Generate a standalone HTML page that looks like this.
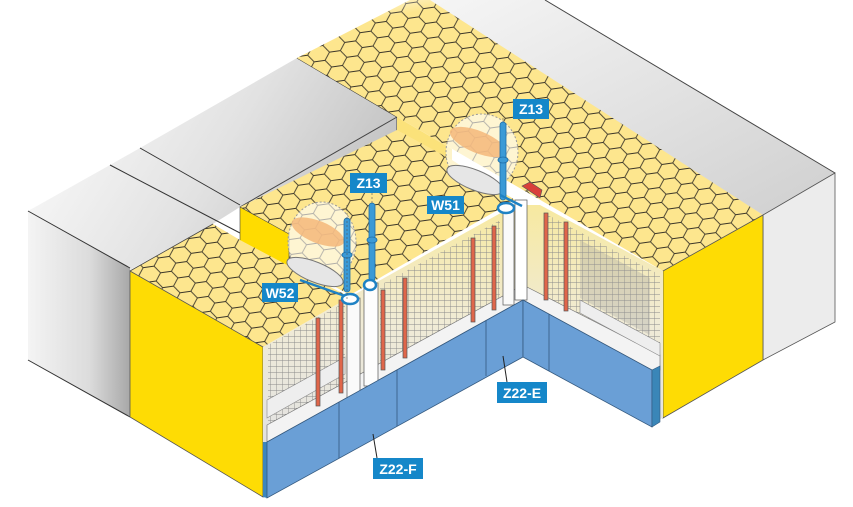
<!DOCTYPE html>
<html><head><meta charset="utf-8"><style>
html,body{margin:0;padding:0;background:#fff;}
svg{display:block;}
.lbl{font-family:"Liberation Sans",sans-serif;font-weight:bold;font-size:14px;fill:#fff;}
</style></head><body>
<svg width="853" height="507" viewBox="0 0 853 507" xmlns="http://www.w3.org/2000/svg">
<defs>
<pattern id="hex" width="33" height="15" patternUnits="userSpaceOnUse" patternTransform="rotate(-8)">
<rect width="33" height="15" fill="#fde68e"/>
<path d="M0,7.5 L5.5,0 L16.5,0 L22,7.5 L16.5,15 L5.5,15 Z M22,7.5 L33,7.5" fill="none" stroke="#3a3528" stroke-width="0.9"/>
</pattern>
<pattern id="mesh" width="6" height="6" patternUnits="userSpaceOnUse">
<path d="M0,0 L6,0 M0,0 L0,6" stroke="#8a8a8a" stroke-width="0.9"/>
</pattern>
<linearGradient id="gl" x1="0" y1="0" x2="1" y2="0.6">
<stop offset="0" stop-color="#ffffff"/><stop offset="0.5" stop-color="#e2e2e2"/><stop offset="1" stop-color="#b5b5b5"/>
</linearGradient>
<linearGradient id="gface" x1="0" y1="0" x2="1" y2="0">
<stop offset="0" stop-color="#f4f4f4"/><stop offset="0.6" stop-color="#dcdcdc"/><stop offset="1" stop-color="#a8a8a8"/>
</linearGradient>
<linearGradient id="gr" x1="0" y1="0" x2="1" y2="1">
<stop offset="0" stop-color="#f6f6f6"/><stop offset="1" stop-color="#cfcfcf"/>
</linearGradient>
<linearGradient id="fadeTop" x1="0" y1="0" x2="0.5" y2="1">
<stop offset="0" stop-color="#fff" stop-opacity="1"/><stop offset="0.35" stop-color="#fff" stop-opacity="0"/>
</linearGradient>
<linearGradient id="wall" x1="0" y1="0" x2="0" y2="1">
<stop offset="0" stop-color="#f7e9a0"/><stop offset="0.5" stop-color="#f0ebd6"/><stop offset="1" stop-color="#e2e2e2"/>
</linearGradient>
</defs>

<polygon points="420,0 545,0 835,173 763,215" fill="url(#gr)"/>
<polygon points="763,215 835,173 835,322 763,360" fill="#ececec" stroke="#555" stroke-width="0.8"/>
<line x1="545" y1="0" x2="835" y2="173" stroke="#444" stroke-width="1"/>

<polygon points="28,211 110,165 140,148 297,58 397,117 397,132 240,207 213,224 130,270 130,417 28,360" fill="url(#gl)"/>
<polygon points="28,211 130,268 130,417 28,360" fill="url(#gface)"/>
<line x1="28" y1="211" x2="130" y2="268" stroke="#333"/>
<line x1="28" y1="360" x2="130" y2="417" stroke="#333"/>
<line x1="110" y1="165" x2="240" y2="233" stroke="#333"/>
<line x1="140" y1="148" x2="240" y2="205" stroke="#333"/>
<line x1="297" y1="58" x2="397" y2="117" stroke="#333"/>
<line x1="240" y1="207" x2="397" y2="117" stroke="#444"/>
<line x1="397" y1="117" x2="397" y2="135" stroke="#444"/>

<polygon points="297,58 410,0 430,0 763,215 663,271 397,117" fill="url(#hex)"/>
<polygon points="297,58 410,0 430,0 500,40 330,80" fill="url(#fadeTop)"/>
<polygon points="397,117 452,149 452,192 397,160" fill="#fbe27a"/>

<polygon points="240,207 397,130 452,160 515,200 350,295 290,262" fill="url(#hex)"/>
<polygon points="240,207 289,234 289,268 240,242" fill="#ffdc00" stroke="#444" stroke-width="0.6"/>

<polygon points="130,271 213,224 240,240 289,266 350,297 263,347" fill="url(#hex)"/>
<polyline points="130,271 213,224" fill="none" stroke="#444" stroke-width="0.8"/>

<polygon points="663,271 763,215 763,360 663,418" fill="#fedc04" stroke="#555" stroke-width="0.8"/>
<polygon points="130,271 263,347 263,497 130,417" fill="#fedc04" stroke="#555" stroke-width="0.8"/>

<polygon points="263,347 350,297 515,205 540,205 663,271 663,418 652,422 652,370 523,300 267,442 263,442" fill="url(#wall)"/>
<polygon points="268,345 345,302 345,395 268,440" fill="url(#mesh)"/>
<polygon points="380,285 500,220 500,305 380,372" fill="url(#mesh)"/>
<polygon points="548,215 660,275 660,360 548,300" fill="url(#mesh)"/>
<polygon points="580,240 650,278 650,335 580,298" fill="#9a9a9a" opacity="0.3"/>

<polygon points="267,425 523,285 660,355 660,370 652,370 523,300 267,442" fill="#f3f3f3" stroke="#777" stroke-width="0.7"/>
<polygon points="267,400 345,357 345,374 267,418" fill="#eeeeee" stroke="#888" stroke-width="0.6"/>
<polygon points="580,300 660,343 660,356 580,313" fill="#eee" stroke="#888" stroke-width="0.6"/>

<g stroke="#555" stroke-width="0.7">
<rect x="347" y="298" width="13" height="100" fill="#fafafa"/>
<rect x="364" y="283" width="14" height="103" fill="#fdfdfd"/>
<rect x="503" y="205" width="11" height="100" fill="#fafafa"/>
<rect x="515" y="200" width="12" height="100" fill="#fff"/>
<rect x="316" y="318" width="4" height="88" fill="#e0664a"/>
<rect x="339" y="300" width="4" height="93" fill="#e0664a"/>
<rect x="381" y="290" width="4" height="80" fill="#e0664a"/>
<rect x="403" y="278" width="4" height="80" fill="#e0664a"/>
<rect x="471" y="238" width="4" height="84" fill="#e0664a"/>
<rect x="492" y="226" width="4" height="84" fill="#e0664a"/>
<rect x="544" y="213" width="4" height="87" fill="#e0664a"/>
<rect x="564" y="222" width="4" height="89" fill="#e0664a"/>
</g>

<polygon points="263,442 267,442 267,498 263,497" fill="#3c86bd"/>
<polygon points="267,442 523,300 523,357 267,498" fill="#6a9fd6" stroke="#34597f" stroke-width="0.8"/>
<polygon points="523,300 652,370 652,427 523,357" fill="#6a9fd6" stroke="#34597f" stroke-width="0.8"/>
<polygon points="652,370 660,366 660,422 652,427" fill="#3a86b8" stroke="#34597f" stroke-width="0.6"/>
<g stroke="#34597f" stroke-width="0.8">
<line x1="339" y1="402" x2="339" y2="458"/>
<line x1="397" y1="370" x2="397" y2="426"/>
<line x1="486" y1="320" x2="486" y2="376"/>
<line x1="549" y1="314" x2="549" y2="371"/>
</g>

<g>
<ellipse cx="482" cy="152" rx="36" ry="38" fill="#fff" fill-opacity="0.6" stroke="#999" stroke-dasharray="2,2"/>
<ellipse cx="478" cy="142" rx="30" ry="11" transform="rotate(22 478 142)" fill="#f5b77a" opacity="0.85"/>
<ellipse cx="475" cy="180" rx="30" ry="10" transform="rotate(22 475 180)" fill="#e6e6e6" stroke="#777"/>
<ellipse cx="322" cy="242" rx="34" ry="40" fill="#fff" fill-opacity="0.6" stroke="#999" stroke-dasharray="2,2"/>
<ellipse cx="318" cy="232" rx="28" ry="11" transform="rotate(22 318 232)" fill="#f5b77a" opacity="0.85"/>
<ellipse cx="315" cy="272" rx="30" ry="10" transform="rotate(22 315 272)" fill="#e6e6e6" stroke="#777"/>
</g>

<g stroke="#1f6fa8" stroke-width="0.8" fill="#3b9ad6">
<rect x="500" y="122" width="6" height="78" rx="3"/>
<ellipse cx="503" cy="160" rx="5" ry="3"/>
<rect x="369" y="203" width="6" height="78" rx="3"/>
<ellipse cx="372" cy="240" rx="5" ry="3"/>
<rect x="344" y="218" width="6" height="74" rx="3"/>
<ellipse cx="347" cy="255" rx="5" ry="3"/>
</g>
<g fill="none" stroke="#1f82c4" stroke-width="2.5">
<line x1="500" y1="195" x2="522" y2="206"/>
<ellipse cx="506" cy="208" rx="8" ry="5" fill="#fff"/>
<line x1="300" y1="280" x2="345" y2="296"/>
<ellipse cx="350" cy="299" rx="8" ry="5" fill="#fff"/>
<ellipse cx="370" cy="285" rx="6" ry="5" fill="#fff"/>
</g>
<polygon points="522,186 530,182 542,190 540,198" fill="#d9403a" stroke="#555" stroke-width="0.6"/>
<g stroke="#555" stroke-width="0.6" stroke-dasharray="2,2">
<line x1="503" y1="118" x2="503" y2="122"/>
<line x1="372" y1="193" x2="372" y2="203"/>
<line x1="347" y1="205" x2="347" y2="300"/>
</g>

<line x1="507" y1="382" x2="503" y2="356" stroke="#222" stroke-width="1"/>
<line x1="377" y1="458" x2="373" y2="434" stroke="#222" stroke-width="1"/>

<g>
<rect x="513" y="99" width="36" height="20" fill="#1587c9"/><text class="lbl" x="531" y="114" text-anchor="middle">Z13</text>
<rect x="350" y="173" width="37" height="20" fill="#1587c9"/><text class="lbl" x="368.5" y="188" text-anchor="middle">Z13</text>
<rect x="427" y="196" width="37" height="18" fill="#1587c9"/><text class="lbl" x="445.5" y="210" text-anchor="middle">W51</text>
<rect x="262" y="283" width="36" height="19" fill="#1587c9"/><text class="lbl" x="280" y="298" text-anchor="middle">W52</text>
<rect x="497" y="382" width="50" height="21" fill="#1587c9"/><text class="lbl" x="522" y="398" text-anchor="middle">Z22-E</text>
<rect x="373" y="458" width="50" height="21" fill="#1587c9"/><text class="lbl" x="398" y="474" text-anchor="middle">Z22-F</text>
</g>
</svg>
</body></html>
